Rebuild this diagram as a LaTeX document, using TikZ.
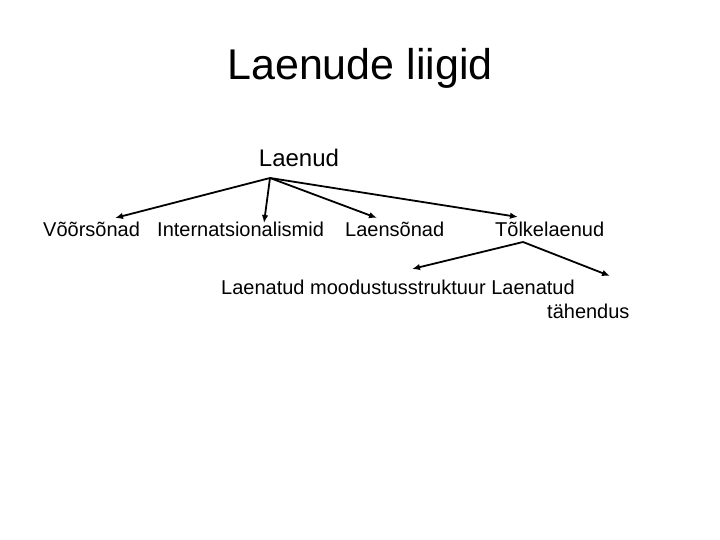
\documentclass[tikz,border=0pt]{standalone}
\usepackage{fontspec}
\setmainfont{Liberation Sans}
\usetikzlibrary{arrows.meta}
\begin{document}
\begin{tikzpicture}
        [x=1pt,y=-1pt,
         word/.style={inner sep=0pt,font=\fontsize{20}{24}\selectfont},
         link/.style={-{Latex[length=8pt,width=6.5pt]},line width=1.8pt}]
        \useasboundingbox (0,0) rectangle (720,540);

        \node[inner sep=0pt,font=\fontsize{43}{50}\selectfont] (title) at (360,68) {Laenude liigid};
        \node[inner sep=0pt,font=\fontsize{24}{28}\selectfont] (laenud) at (299,158) {Laenud};

        \node[word,anchor=west] (voor) at (43,229) {Võõrsõnad};
        \node[word,anchor=west] (inter) at (157,229) {Internatsionalismid};
        \node[word,anchor=west] (laens) at (345,229) {Laensõnad};
        \node[word,anchor=west] (tolke) at (495,229) {Tõlkelaenud};

        \node[word,anchor=west] (mood) at (221,287) {Laenatud moodustusstruktuur Laenatud};
        \node[word,anchor=west] (tah) at (547,311) {tähendus};

        \coordinate (top1) at (270,178);
        \coordinate (top2) at (523,242);
        \coordinate (e1) at (115,218);
        \coordinate (e2) at (264,223);
        \coordinate (e3) at (377,218);
        \coordinate (e4) at (518,217);
        \coordinate (e5) at (412,269);
        \coordinate (e6) at (610,276);

        \draw[link] (top1) -- (e1);
        \draw[link] (top1) -- (e2);
        \draw[link] (top1) -- (e3);
        \draw[link] (top1) -- (e4);

        \draw[link] (top2) -- (e5);
        \draw[link] (top2) -- (e6);
      \end{tikzpicture}
\end{document}
